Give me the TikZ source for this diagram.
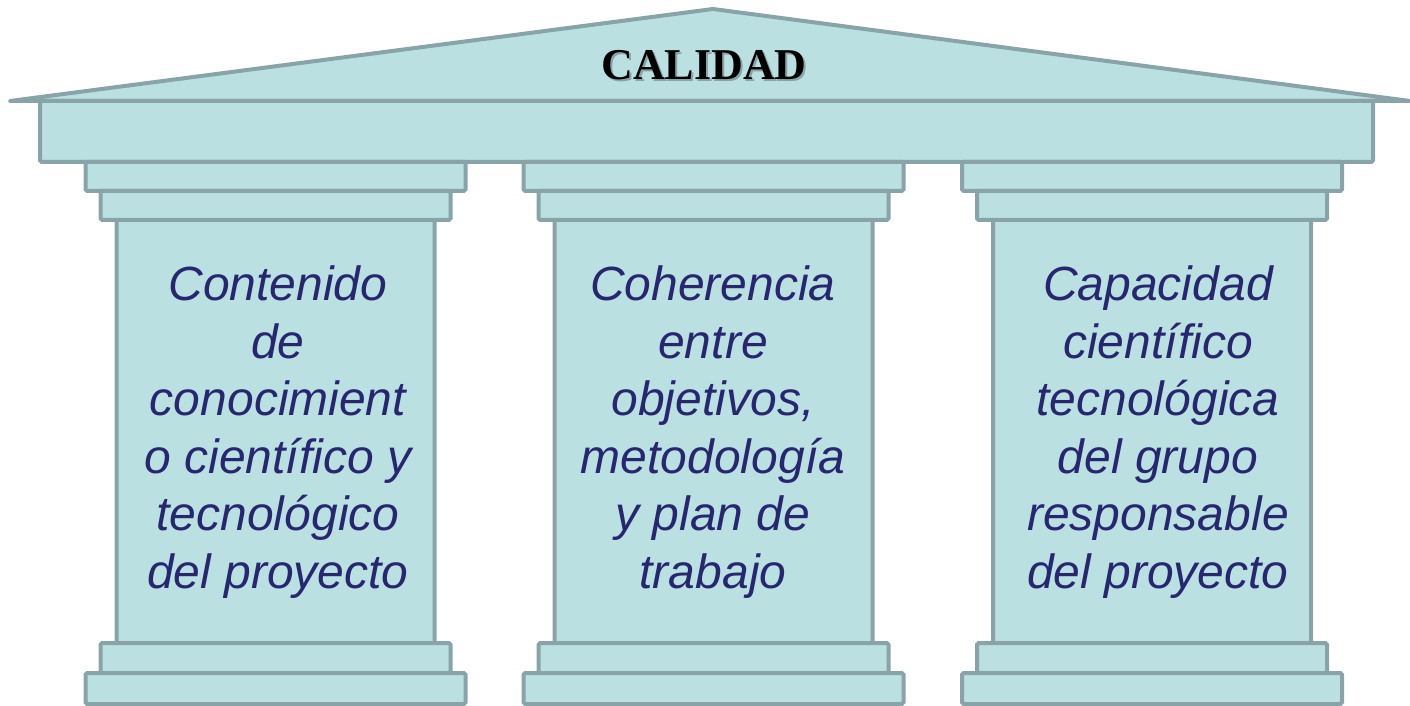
\documentclass[tikz,border=0pt]{standalone}
\usepackage{fontspec}
\setmainfont{Liberation Sans}
\newfontfamily\titlefont{Liberation Serif}
\definecolor{fillc}{HTML}{BAE0E2}
\definecolor{linec}{HTML}{88A4A8}
\definecolor{txtc}{HTML}{27276F}
\begin{document}
\begin{tikzpicture}[x=0.5pt,y=-0.5pt,
  part/.style={draw=linec, fill=fillc, line width=2pt, rounded corners=0.8pt},
  pillartext/.style={text=txtc, font=\itshape\fontsize{24}{28.75}\selectfont, align=center, inner sep=0pt},
  titletext/.style={font=\titlefont\bfseries\fontsize{22}{22}\selectfont, inner sep=0pt, anchor=base}]
\useasboundingbox (0,0) rectangle (1410,706);
% roof
\draw[part, rounded corners=0pt, line join=round, line cap=round] (10,101) -- (713,9) -- (1410,101) -- cycle;
% entablature
\draw[part] (40,101) rectangle (1373,162);
% pillars
\foreach \c in {275.5,713.5,1152}{
  \draw[part] (\c-159,210) rectangle (\c+159,653);
  \draw[part] (\c-190,162) rectangle (\c+190,191);
  \draw[part] (\c-175,191) rectangle (\c+175,220);
  \draw[part] (\c-175,643) rectangle (\c+175,673);
  \draw[part] (\c-190,673) rectangle (\c+190,704);
}
% title
\node[titletext, text=linec] (titleshadow) at (706,82) {CALIDAD};
\node[titletext, text=black] (title) at (704,80) {CALIDAD};
% texts
\node[pillartext] (t1) at (278,432) {Contenido\\de\\conocimient\\o científico y\\tecnológico\\del proyecto};
\node[pillartext] (t2) at (713,432) {Coherencia\\entre\\objetivos,\\metodología\\y plan de\\trabajo};
\node[pillartext] (t3) at (1158,432) {Capacidad\\científico\\tecnológica\\del grupo\\responsable\\del proyecto};
\end{tikzpicture}
\end{document}
